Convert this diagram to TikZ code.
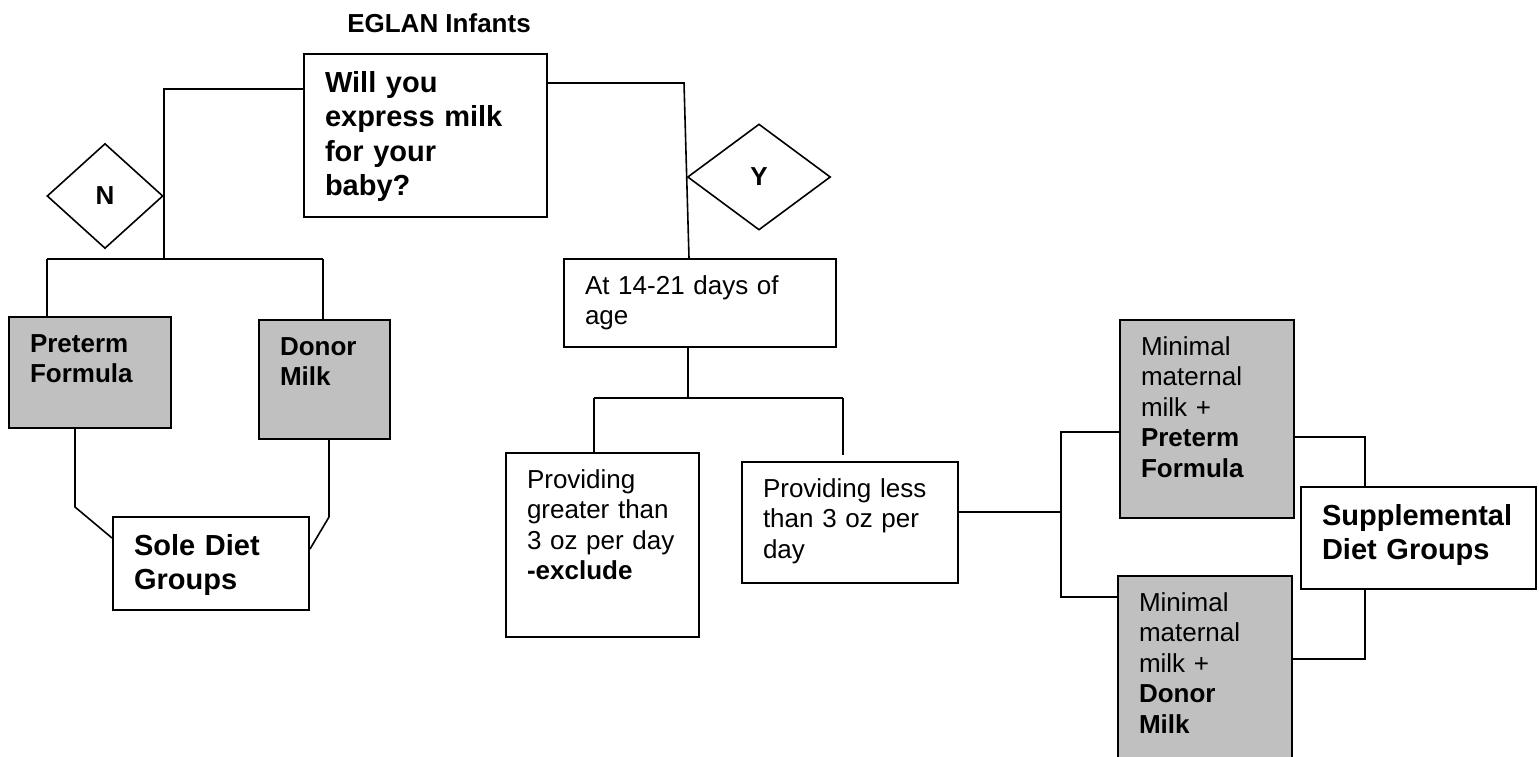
\documentclass[tikz,border=0pt]{standalone}
\usepackage{fontspec}
\setmainfont{Liberation Sans}
\usetikzlibrary{shapes.geometric}
\definecolor{dietGray}{RGB}{192,192,192}

\begin{document}
\begin{tikzpicture}[%
    x=1pt, y=-1pt,
    heading/.style={%
        anchor=base,
        font=\fontsize{26}{30}\selectfont\bfseries
    },
    decision/.style={%
        draw,
        diamond,
        line width=1.6pt,
        inner sep=0pt,
        font=\fontsize{26}{30}\selectfont\bfseries
    },
    textBox/.style={%
        draw,
        line width=2pt,
        anchor=north west,
        align=left,
        inner xsep=21pt,
        inner ysep=0pt,
        text height=35pt,
        font=\fontsize{26}{30.5}\selectfont
    },
    boldBox/.style={%
        textBox,
        font=\fontsize{26}{30.5}\selectfont\bfseries
    },
    bigBox/.style={%
        textBox,
        text height=38pt,
        font=\fontsize{29}{34.5}\selectfont\bfseries
    },
    diet/.style={%
        fill=dietGray
    },
    link/.style={%
        line width=1.6pt
    }
]
\useasboundingbox (0,0) rectangle (1539,756);
\clip (0,0) rectangle (1539,756);

% Title and question
    \node[heading] (eglanTitle) at (439,32) {EGLAN Infants};
    \node[bigBox, text width=201pt, text depth=125pt] (question) at (303,53)
        {Will you\\express milk\\for your\\baby?};

% No branch (N)
    \node[decision, minimum width=116pt, minimum height=105pt] (answerNo) at (105,196) {N};
    \node[boldBox, diet, text width=120pt, text depth=76pt] (pretermFormula) at (8,316) {Preterm\\Formula};
    \node[boldBox, diet, text width=89pt, text depth=84pt] (donorMilk) at (258,319) {Donor\\Milk};
    \node[bigBox, text width=154pt, text depth=55pt] (soleDiet) at (112,516) {Sole Diet\\Groups};

% Yes branch (Y)
    \node[decision, minimum width=143pt, minimum height=106pt] (answerYes) at (759,177) {Y};
    \node[textBox, text width=230pt, text depth=53pt] (ageCheck) at (563,258) {At 14-21 days of\\age};
    \node[textBox, text width=151pt, text depth=149pt] (moreMilk) at (505,452)
        {Providing\\greater than\\3 oz per day\\\textbf{-exclude}};
    \node[textBox, text width=174pt, text depth=86pt] (lessMilk) at (741,461)
        {Providing less\\than 3 oz per\\day};

% Supplemental groups
    \node[textBox, diet, text width=132pt, text depth=163pt] (minimalPreterm) at (1119,319)
        {Minimal\\maternal\\milk +\\\textbf{Preterm}\\\textbf{Formula}};
    \node[textBox, diet, text width=132pt, text depth=150pt] (minimalDonor) at (1117,575)
        {Minimal\\maternal\\milk +\\\textbf{Donor}\\\textbf{Milk}};
    \node[bigBox, text width=193pt, text depth=64pt] (supplementalDiet) at (1300,486)
        {Supplemental\\Diet Groups};

% Lines
\coordinate (noTop) at (164,89);
\coordinate (noFork) at (164,259);
\coordinate (pretermFork) at (47,259);
\coordinate (donorFork) at (323,259);
\coordinate (pretermBend) at (75,507);
\coordinate (donorBend) at (329,517);
\coordinate (soleLeft) at (112,538);
\coordinate (soleRight) at (308,549);

\draw[link] (question.west |- noTop) -- (noTop) -- (noFork);
\draw[link] (pretermFork) -- (donorFork);
\draw[link] (pretermFork) -- (pretermFork |- pretermFormula.north);
\draw[link] (donorFork) -- (donorFork |- donorMilk.north);
\draw[link] (pretermBend |- pretermFormula.south) -- (pretermBend) -- (soleDiet.west |- soleLeft);
\draw[link] (donorBend |- donorMilk.south) -- (donorBend) -- (soleDiet.east |- soleRight);

\coordinate (yesTop) at (684,83);
\coordinate (yesFoot) at (689,250);
\coordinate (ageFork) at (688,398);
\coordinate (moreFork) at (594,398);
\coordinate (lessFork) at (843,398);

\draw[link] (question.east |- yesTop) -- (yesTop) -- (yesFoot |- ageCheck.north);
\draw[link] (ageFork |- ageCheck.south) -- (ageFork);
\draw[link] (moreFork) -- (lessFork);
\draw[link] (moreFork) -- (moreFork |- moreMilk.north);
\draw[link, shorten >=6pt] (lessFork) -- (lessFork |- lessMilk.north);

\coordinate (minimalTop) at (1061,432);
\coordinate (minimalMid) at (1061,512);
\coordinate (minimalBot) at (1061,597);
\coordinate (suppTop) at (1365,437);
\coordinate (suppBot) at (1365,659);

\draw[link] (lessMilk.east |- minimalMid) -- (minimalMid);
\draw[link] (minimalPreterm.west |- minimalTop) -- (minimalTop) -- (minimalBot) -- (minimalDonor.west |- minimalBot);
\draw[link] (minimalPreterm.east |- suppTop) -- (suppTop) -- (suppTop |- supplementalDiet.north);
\draw[link] (suppBot |- supplementalDiet.south) -- (suppBot) -- (minimalDonor.east |- suppBot);

\end{tikzpicture}
\end{document}
